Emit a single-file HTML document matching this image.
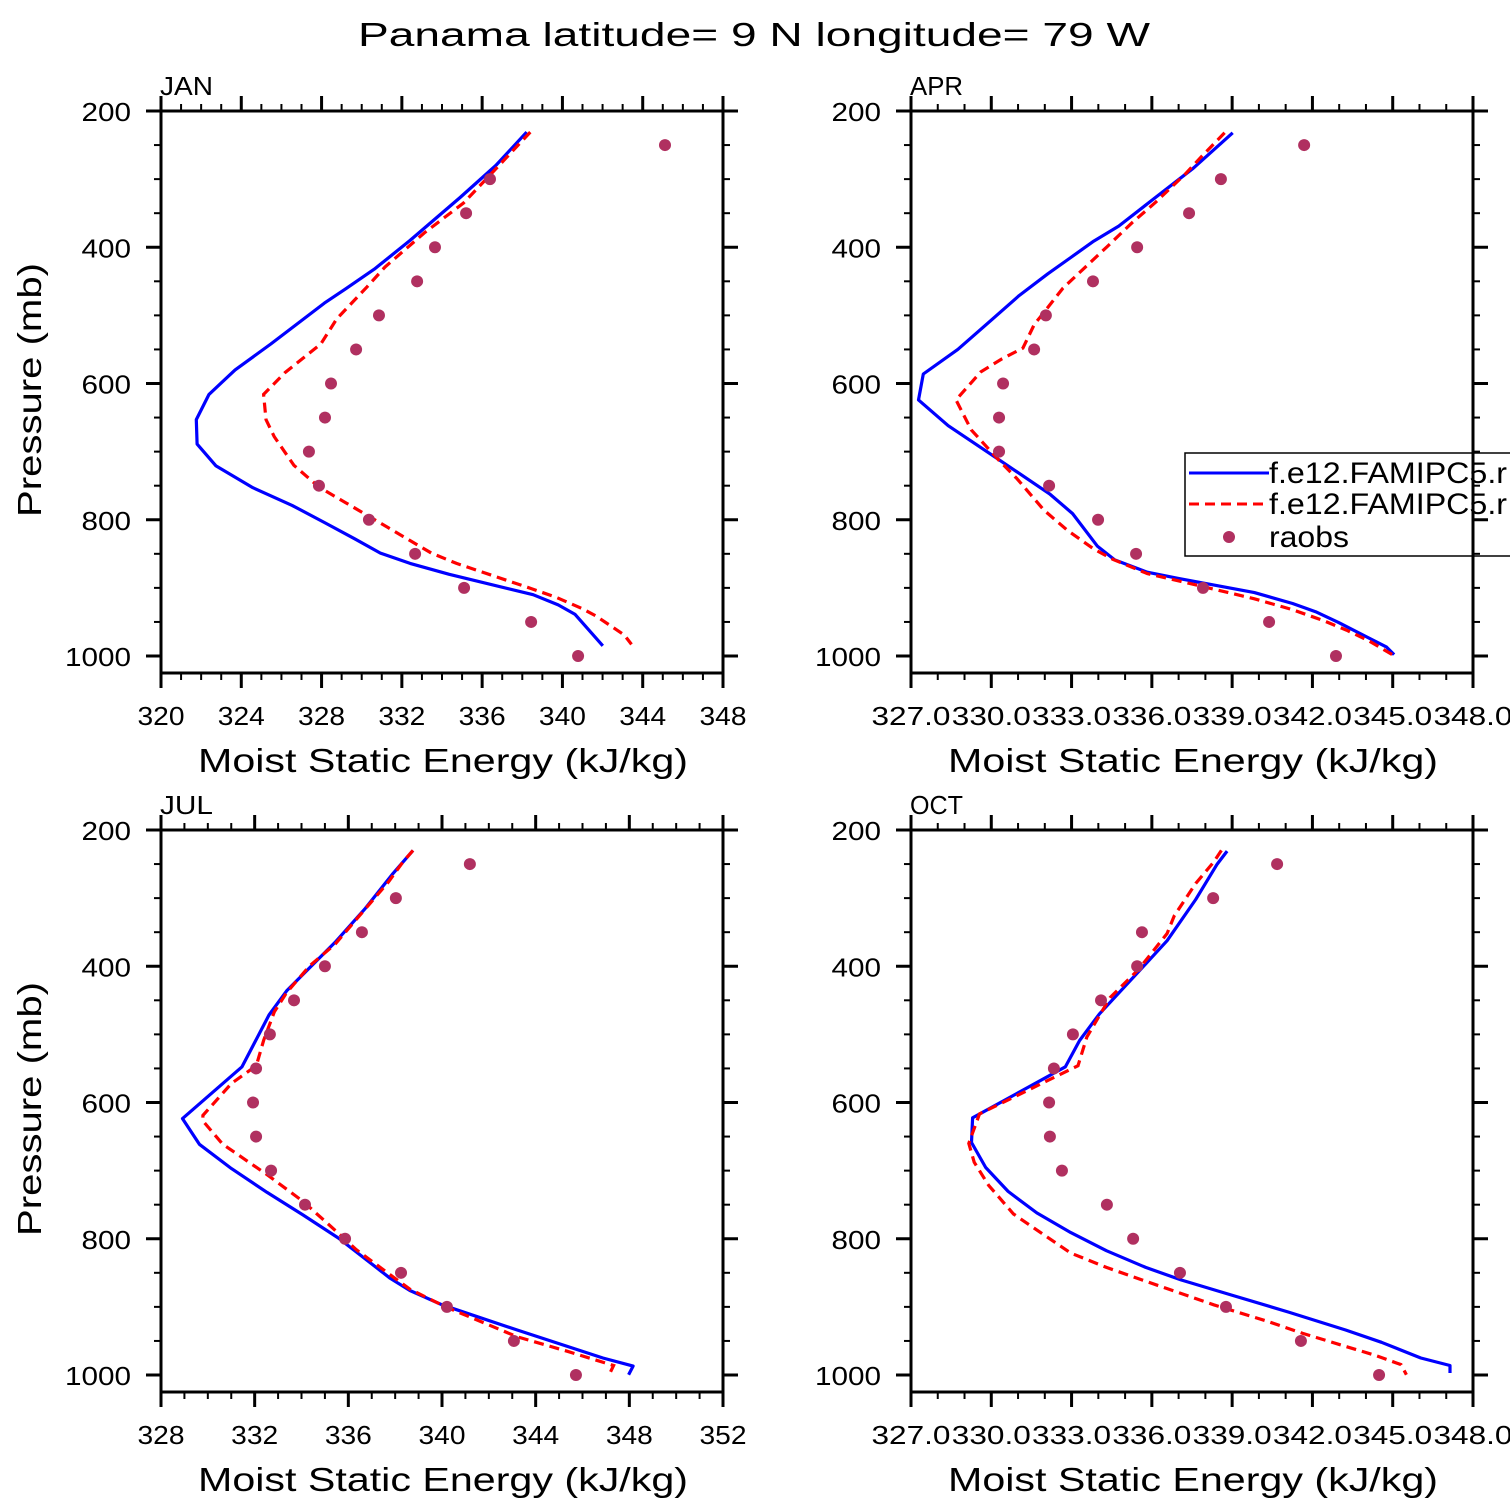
<!DOCTYPE html>
<html><head><meta charset="utf-8"><title>Panama MSE</title>
<style>
html,body{margin:0;padding:0;background:#fff;}
svg{display:block;font-family:"Liberation Sans","DejaVu Sans",sans-serif;}
</style></head>
<body>
<svg id="chart" width="1510" height="1510" viewBox="0 0 1510 1510" xmlns="http://www.w3.org/2000/svg">
<rect x="0" y="0" width="1510" height="1510" fill="#fff"/>
<text x="754" y="46" text-anchor="middle" font-size="33" textLength="792" lengthAdjust="spacingAndGlyphs" fill="#000">Panama  latitude= 9 N longitude= 79 W</text>
</svg>
<script>
// ---------- data ----------
const obsPressure = [250,300,350,400,450,500,550,600,650,700,750,800,850,900,950,1000];

const janBlueP = [231,280,327,390,432,461,482,542,580,616,653,689,721,753,779,804,828,849,864,880,910,925,939,985];
const janBlueE = [338.22,336.68,334.90,332.41,330.63,329.20,328.14,325.47,323.69,322.39,321.76,321.80,322.74,324.58,326.53,328.14,329.65,330.93,332.41,334.36,338.54,339.79,340.63,342.01];
const janRedP = [231,285,335,379,429,458,505,542,584,616,653,678,720,752,775,812,849,864,901,914,930,941,969,983];
const janRedE = [338.40,336.68,335.07,333.12,331.16,330.27,328.76,327.96,326.18,325.11,325.23,325.64,326.62,327.87,329.20,331.34,333.47,334.72,338.45,339.70,340.95,341.66,343.08,343.44];
const janObsE = [345.11,336.39,335.20,333.65,332.76,330.86,329.72,328.47,328.17,327.37,327.87,330.36,332.66,335.10,338.44,340.78];

const aprBlueP = [232,284,332,369,391,415,439,471,508,550,586,624,662,711,762,791,839,859,877,886,907,923,935,951,987,998];
const aprBlueE = [339.02,337.55,335.97,334.76,333.83,332.97,332.11,331.04,329.97,328.75,327.46,327.28,328.39,330.25,332.18,333.04,333.97,334.61,335.83,336.97,339.83,341.26,342.12,342.98,344.77,345.05];
const aprRedP = [232,268,292,335,364,399,423,460,503,513,548,564,583,624,668,714,740,786,815,843,858,879,900,916,932,948,962,978,998];
const aprRedE = [338.72,337.83,337.26,336.11,335.26,334.33,333.68,332.68,331.82,331.61,331.18,330.39,329.61,328.68,329.25,330.32,330.97,331.97,332.83,333.83,334.54,335.83,338.12,339.83,341.26,342.41,343.27,344.12,344.98];
const aprObsE = [341.69,338.58,337.39,335.45,333.80,332.04,331.60,330.44,330.29,330.29,332.16,333.99,335.41,337.91,340.38,342.88];

const julBlueP = [230,265.5,315,365,407,436,471.6,547.6,623.6,661.3,697,732,765,799,858,876,897,934,975,987,999.5];
const julBlueE = [338.76,337.87,336.73,335.43,334.21,333.37,332.61,331.46,328.92,329.64,331.01,332.53,334.06,335.58,337.79,338.63,340.00,343.21,346.87,348.16,347.97];
const julRedP = [230,247,276,312.7,367.8,399,438.5,467,509,546,572,619,627,661,706,745,792,816,855,874,900,944,965,986,999.5];
const julRedE = [338.76,338.33,337.72,336.80,335.43,334.36,333.37,332.84,332.38,332.07,331.01,329.79,329.79,330.63,332.53,334.06,335.58,336.34,337.87,338.63,340.16,343.21,345.34,347.33,347.14];
const julObsE = [341.19,338.03,336.58,335.00,333.68,332.65,332.06,331.93,332.06,332.70,334.15,335.86,338.25,340.21,343.07,345.72];

const octBlueP = [231,250,302,362.5,396.6,470,509,547.6,622.5,658.7,695.4,730.5,762,791,817.6,842,860.6,882.6,907.7,934,952,975,986,997];
const octBlueE = [338.81,338.44,337.64,336.57,335.77,334.04,333.30,332.77,329.30,329.26,329.79,330.63,331.70,332.97,334.30,335.77,337.10,338.97,341.11,343.24,344.58,346.05,347.14,347.14];
const octRedP = [230,247,278.6,325.8,352,404.5,446,472.6,504,546,616.8,660,687.6,721.6,763.6,792.4,821,842,860.6,897,921,939,955,970.6,984.8,999.5];
const octRedE = [338.60,338.31,337.64,336.84,336.57,335.51,334.44,334.04,333.57,333.24,329.56,329.16,329.36,329.90,330.83,331.90,332.97,334.30,335.64,338.31,340.31,341.64,342.98,344.31,345.31,345.51];
const octObsE = [340.68,338.29,335.63,335.45,334.10,333.05,332.34,332.16,332.19,332.64,334.32,335.30,337.05,338.77,341.57,344.49];

const janXTicks = ["320","324","328","332","336","340","344","348"];
const aprXTicks = ["327.0","330.0","333.0","336.0","339.0","342.0","345.0","348.0"];
const julXTicks = ["328","332","336","340","344","348","352"];
const octXTicks = ["327.0","330.0","333.0","336.0","339.0","342.0","345.0","348.0"];
const yTickLabels = ["200","400","600","800","1000"];
const legendLabels = ["f.e12.FAMIPC5.r","f.e12.FAMIPC5.r","raobs"];

// ---------- drawing ----------
const NS = "http://www.w3.org/2000/svg";
const svg = document.getElementById("chart");
function mk(tag, attrs, parent){
  const e = document.createElementNS(NS, tag);
  for (const k in attrs) e.setAttribute(k, attrs[k]);
  (parent||svg).appendChild(e);
  return e;
}

const panels = [
  {id:"jan", title:"JAN", left:161, top:111, xmin:320, xmax:348, step:4, ticks:janXTicks,
   blueP:janBlueP, blueE:janBlueE, redP:janRedP, redE:janRedE, obsE:janObsE},
  {id:"apr", title:"APR", left:911, top:111, xmin:327, xmax:348, step:3, ticks:aprXTicks,
   blueP:aprBlueP, blueE:aprBlueE, redP:aprRedP, redE:aprRedE, obsE:aprObsE},
  {id:"jul", title:"JUL", left:161, top:830, xmin:328, xmax:352, step:4, ticks:julXTicks,
   blueP:julBlueP, blueE:julBlueE, redP:julRedP, redE:julRedE, obsE:julObsE},
  {id:"oct", title:"OCT", left:911, top:830, xmin:327, xmax:348, step:3, ticks:octXTicks,
   blueP:octBlueP, blueE:octBlueE, redP:octRedP, redE:octRedE, obsE:octObsE}
];
const W = 562, H = 562, PXPMB = 545/800;

panels.forEach(pn => {
  const g = mk("g", {});
  
  
  const xS = v => pn.left + (v - pn.xmin) / (pn.xmax - pn.xmin) * W;
  const yS = p => pn.top + (p - 200) * PXPMB;
  const bottom = pn.top + H, right = pn.left + W;

  for (let v = pn.xmin; v <= pn.xmax + 1e-9; v += 1) {
    const major = Math.abs(((v - pn.xmin) / pn.step) - Math.round((v - pn.xmin) / pn.step)) < 1e-9;
    const L = major ? 15 : 7;
    const x = xS(v);
    const t1 = mk("line", {x1:x, y1:bottom, x2:x, y2:bottom + L, stroke:"#000", "stroke-width":major?3:2}, g);
    
    
    const t2 = mk("line", {x1:x, y1:pn.top, x2:x, y2:pn.top - L, stroke:"#000", "stroke-width":major?3:2}, g);
    
    
  }
  pn.ticks.forEach((lab, i) => {
    const x = xS(pn.xmin + i * pn.step);
    const t = mk("text", {x:x, y:bottom + 52, "text-anchor":"middle", "font-size":26, fill:"#000",
      textLength: lab.length > 3 ? 79 : 47, lengthAdjust:"spacingAndGlyphs"}, g);
    t.textContent = lab;
    
    
  });
  for (let p = 200; p <= 1000; p += 50) {
    const major = p % 200 === 0;
    const L = major ? 15 : 7;
    const y = yS(p);
    const t1 = mk("line", {x1:pn.left, y1:y, x2:pn.left - L, y2:y, stroke:"#000", "stroke-width":major?3:2}, g);
    
    
    const t2 = mk("line", {x1:right, y1:y, x2:right + L, y2:y, stroke:"#000", "stroke-width":major?3:2}, g);
    
    
  }
  yTickLabels.forEach((lab, i) => {
    const y = yS(200 + i * 200);
    const t = mk("text", {x:pn.left - 30, y:y + 10, "text-anchor":"end", "font-size":26, fill:"#000",
      textLength: lab.length * 16.5, lengthAdjust:"spacingAndGlyphs"}, g);
    t.textContent = lab;
    
    
  });

  const fr = mk("rect", {x:pn.left, y:pn.top, width:W, height:H, fill:"none", stroke:"#000", "stroke-width":3}, g);
  
  

  const pt = mk("text", {x:pn.left - 1, y:pn.top - 16, "font-size":26, fill:"#000", textLength:53, lengthAdjust:"spacingAndGlyphs"}, g);
  pt.textContent = pn.title;
  
  

  const xt = mk("text", {x:pn.left + 282, y:bottom + 99, "text-anchor":"middle", "font-size":33, fill:"#000", textLength:490, lengthAdjust:"spacingAndGlyphs"}, g);
  xt.textContent = "Moist Static Energy (kJ/kg)";
  
  
  if (pn.left < 500) {
    const cy = pn.top + 279;
    const yt = mk("text", {x:0, y:0, transform:"translate(41," + cy + ") rotate(-90)", "text-anchor":"middle", "font-size":33, fill:"#000", textLength:254, lengthAdjust:"spacingAndGlyphs"}, g);
    yt.textContent = "Pressure (mb)";
    
    
  }

  const pts = (P, E) => P.map((p, i) => xS(E[i]).toFixed(1) + "," + yS(p).toFixed(1)).join(" ");
  const bl = mk("polyline", {points:pts(pn.blueP, pn.blueE), fill:"none", stroke:"#0000ff", "stroke-width":3.2, "stroke-linejoin":"round"}, g);
  
  
  const rl = mk("polyline", {points:pts(pn.redP, pn.redE), fill:"none", stroke:"#ff0000", "stroke-width":3.2, "stroke-dasharray":"10,6"}, g);
  
  
  obsPressure.forEach((p, i) => {
    const c = mk("circle", {cx:xS(pn.obsE[i]), cy:yS(p), r:6, fill:"#b03060"}, g);
    
    
  });
});

const lg = mk("g", {});


const lb = mk("rect", {x:1185, y:453, width:340, height:103, fill:"none", stroke:"#000", "stroke-width":1.5}, lg);


const ys = [473, 504, 537];
const l1 = mk("line", {x1:1189, y1:ys[0], x2:1269, y2:ys[0], stroke:"#0000ff", "stroke-width":3}, lg);


const l2 = mk("line", {x1:1189, y1:ys[1], x2:1269, y2:ys[1], stroke:"#ff0000", "stroke-width":3, "stroke-dasharray":"10,6"}, lg);


const l3 = mk("circle", {cx:1229, cy:ys[2], r:6, fill:"#b03060"}, lg);


const legLens = [238, 238, 80];
legendLabels.forEach((lab, i) => {
  const t = mk("text", {x:1269, y:ys[i] + 10, "font-size":30, fill:"#000", textLength:legLens[i], lengthAdjust:"spacingAndGlyphs"}, lg);
  t.textContent = lab;
  
  
});
</script>
</body></html>
